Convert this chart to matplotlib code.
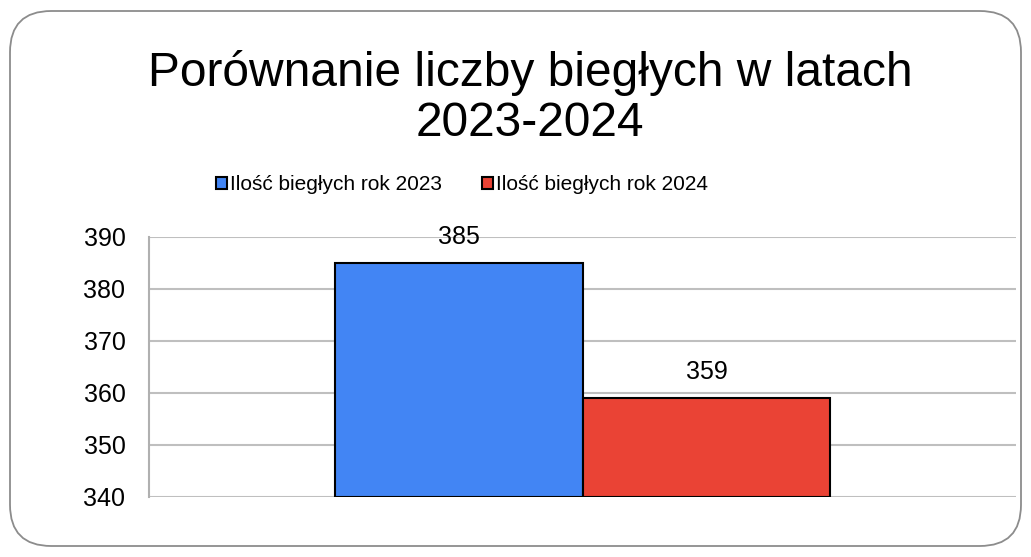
import matplotlib.pyplot as plt
from matplotlib.patches import FancyBboxPatch

plt.rcParams['font.family'] = ['Liberation Sans', 'DejaVu Sans']

series = ['Ilość biegłych rok 2023', 'Ilość biegłych rok 2024']
values = [385, 359]
colors = ['#4285f4', '#ea4335']
yticks = [340, 350, 360, 370, 380, 390]

fig = plt.figure(figsize=(10.31, 5.57), dpi=100)

# zaokrąglona ramka wokół wykresu
frame = FancyBboxPatch((10 / 1031, 11 / 557), 1011 / 1031, 535 / 557,
                       boxstyle='round,pad=0,rounding_size=0.04',
                       transform=fig.transFigure, facecolor='white',
                       edgecolor='#8c8c8c', linewidth=1.3, zorder=-5,
                       mutation_aspect=1031 / 557)
fig.patches.append(frame)

ax = fig.add_axes([149 / 1031, 1 - 497 / 557, 867 / 1031, 260 / 557])
ax.set_facecolor('none')
ax.set_zorder(2)

width = 0.286
positions = [-width / 2, width / 2]
for pos, val, col, name in zip(positions, values, colors, series):
    ax.bar(pos, val - 340, width=width, bottom=340, color=col,
           edgecolor='black', linewidth=1.5, label=name, zorder=3)
    ax.annotate(str(val), (pos, val), xytext=(0, 10), textcoords='offset points',
                ha='center', va='bottom', fontsize=18, zorder=4)

ax.set_xlim(-0.5, 0.5)
ax.set_ylim(340, 390)
ax.set_yticks(yticks)
ax.set_xticks([])
ax.tick_params(axis='y', length=0, labelsize=18, pad=17)
ax.yaxis.grid(True, color='#bfbfbf', linewidth=1.5, zorder=0)
for side in ['top', 'right', 'bottom']:
    ax.spines[side].set_visible(False)
ax.spines['left'].set_color('#b0b0b0')
ax.spines['left'].set_linewidth(1.5)

fig.text(530 / 1031, 1 - 98 / 557, 'Porównanie liczby biegłych w latach\n2023-2024',
         ha='center', va='center', fontsize=34.5, linespacing=1.12)

leg = fig.legend(loc='center', bbox_to_anchor=(462 / 1031, 1 - 185 / 557),
                 ncol=2, frameon=False, fontsize=15, handlelength=0.55,
                 handleheight=0.55, handletextpad=0.15, columnspacing=1.9)

plt.savefig('out.png', dpi=100)
